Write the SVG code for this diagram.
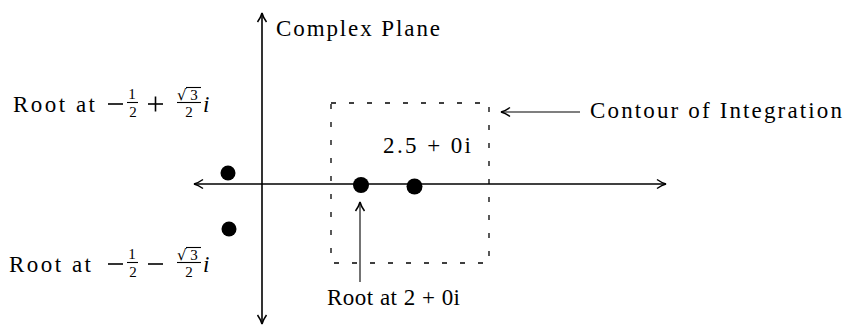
<svg xmlns="http://www.w3.org/2000/svg" width="845" height="333" viewBox="0 0 845 333">
<style>
  .t { font-family: "Liberation Serif", "Times New Roman", serif; font-size: 23px; fill: #000; }
  .s { font-family: "Liberation Serif", "Times New Roman", serif; font-size: 15px; fill: #000; text-anchor: middle; }
  .r { font-family: "DejaVu Sans", "Liberation Serif", serif; font-size: 15px; fill: #000; }
  .it { font-style: italic; }
  .ln { stroke: #000; stroke-width: 1.6; fill: none; }
  .thin { stroke: #000; stroke-width: 1.1; fill: none; }
  .dash { stroke: #000; stroke-width: 1.3; fill: none; stroke-dasharray: 5 13; }
  .dot { fill: #000; }
</style>
<defs>
  <marker id="arr" viewBox="-11 -6 12 12" refX="0" refY="0" markerWidth="12" markerHeight="12" markerUnits="userSpaceOnUse" orient="auto-start-reverse">
    <path d="M-9,-4.5 Q-4,-1 0,0 Q-4,1 -9,4.5" stroke="#000" stroke-width="1.5" fill="none"/>
  </marker>
</defs>

<g id="connectors">
  <line class="ln" x1="194" y1="184" x2="666" y2="184" marker-start="url(#arr)" marker-end="url(#arr)"/>
  <line class="ln" x1="262" y1="13" x2="262" y2="324" marker-start="url(#arr)" marker-end="url(#arr)"/>
  <line class="thin" x1="580" y1="112" x2="501" y2="112" marker-end="url(#arr)"/>
  <line class="thin" x1="360" y1="282" x2="360" y2="202" marker-end="url(#arr)"/>
</g>

<g id="contour">
  <rect class="dash" x="331" y="103" width="158" height="160"/>
</g>

<g id="complex-plane-label">
  <text class="t" x="276" y="36" textLength="164" lengthAdjust="spacing">Complex Plane</text>
</g>

<g id="contour-label">
  <text class="t" x="590" y="118" textLength="252" lengthAdjust="spacing">Contour of Integration</text>
</g>

<g id="point-2-5">
  <circle class="dot" cx="414.5" cy="186.5" r="8"/>
  <text class="t" x="383" y="153" textLength="88" lengthAdjust="spacing">2.5 + 0i</text>
</g>

<g id="root-2">
  <circle class="dot" cx="361" cy="185" r="8"/>
  <text class="t" x="327" y="305" textLength="133" lengthAdjust="spacing">Root at 2 + 0i</text>
</g>

<g id="root-upper">
  <circle class="dot" cx="228" cy="173" r="7.5"/>
  <text class="t" x="13" y="112" textLength="82" lengthAdjust="spacing">Root at</text>
  <line class="ln" x1="108" y1="104" x2="123" y2="104"/>
  <text class="s" x="132" y="98.5">1</text>
  <line class="thin" x1="127" y1="102.5" x2="138" y2="102.5"/>
  <text class="s" x="133" y="117">2</text>
  <line class="ln" x1="148" y1="104" x2="163" y2="104"/>
  <line class="ln" x1="155.5" y1="96.5" x2="155.5" y2="111.5"/>
  <text class="r" x="177" y="100">√</text>
  <line class="thin" x1="186" y1="87.5" x2="201" y2="87.5"/>
  <text class="s" x="194" y="100">3</text>
  <line class="thin" x1="177" y1="102.5" x2="201" y2="102.5"/>
  <text class="s" x="189" y="117">2</text>
  <text class="t it" x="203" y="112">i</text>
</g>

<g id="root-lower">
  <circle class="dot" cx="229" cy="229" r="7.5"/>
  <text class="t" x="9" y="272" textLength="82" lengthAdjust="spacing">Root at</text>
  <line class="ln" x1="108" y1="264" x2="123" y2="264"/>
  <text class="s" x="132" y="258.5">1</text>
  <line class="thin" x1="127" y1="262.5" x2="138" y2="262.5"/>
  <text class="s" x="133" y="277">2</text>
  <line class="ln" x1="148" y1="264" x2="163" y2="264"/>
  <text class="r" x="177" y="260">√</text>
  <line class="thin" x1="186" y1="247.5" x2="201" y2="247.5"/>
  <text class="s" x="194" y="260">3</text>
  <line class="thin" x1="177" y1="262.5" x2="201" y2="262.5"/>
  <text class="s" x="189" y="277">2</text>
  <text class="t it" x="203" y="272">i</text>
</g>
</svg>
